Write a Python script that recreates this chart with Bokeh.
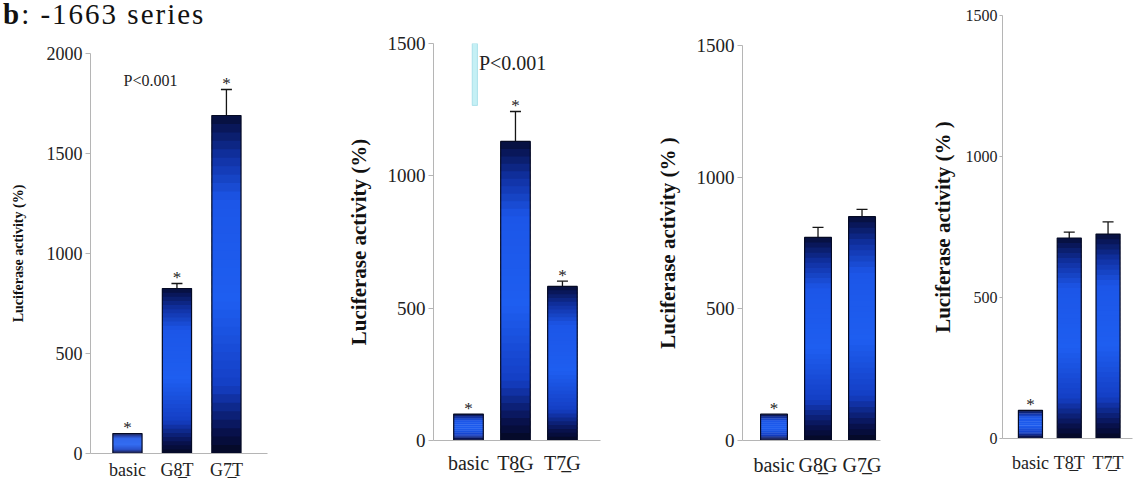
from bokeh.plotting import figure
from bokeh.layouts import row, column
from bokeh.models import (Range1d, FixedTicker, Whisker, ColumnDataSource, Label,
                          BoxAnnotation, TeeHead, Div)
from bokeh.embed import file_html
from bokeh.resources import INLINE
from bokeh.core.properties import value

UL = "\u0332"  # combining low line (underline under the digit)

# ---- data ----
p1_labels = ["basic", "G8" + UL + "T", "G7" + UL + "T"]
p1_values = [100, 825, 1690]
p1_errors = [0, 25, 130]
p1_stars = [1, 1, 1]

p2_labels = ["basic", "T8" + UL + "G", "T7" + UL + "G"]
p2_values = [100, 1130, 582]
p2_errors = [0, 113, 20]
p2_stars = [1, 1, 1]

p3_labels = ["basic", "G8" + UL + "G", "G7" + UL + "G"]
p3_values = [100, 771, 850]
p3_errors = [0, 38, 28]
p3_stars = [1, 0, 0]

p4_labels = ["basic", "T8" + UL + "T", "T7" + UL + "T"]
p4_values = [100, 711, 725]
p4_errors = [0, 21, 43]
p4_stars = [1, 0, 0]

y_ticks_1 = [0, 500, 1000, 1500, 2000]
y_ticks_2 = [0, 500, 1000, 1500]

FONT = "Liberation Serif"

# gradient profile of a bar (fraction of bar height -> colour)
STOPS = [(0.00, (4, 8, 34)), (0.07, (8, 18, 80)), (0.20, (20, 62, 196)),
         (0.45, (30, 94, 240)), (0.75, (28, 86, 232)), (0.88, (16, 48, 160)),
         (0.96, (9, 24, 92)), (1.00, (6, 14, 56))]


def grad(t):
    for (a, ca), (b, cb) in zip(STOPS[:-1], STOPS[1:]):
        if a <= t <= b:
            f = (t - a) / (b - a)
            c = [round(ca[i] + (cb[i] - ca[i]) * f) for i in range(3)]
            return "#%02x%02x%02x" % tuple(c)
    return "#%02x%02x%02x" % STOPS[-1][1]


def make_panel(labels, values, errors, stars, yticks, xr, width, height, borders,
               tick_fs, xlab_fs, ylab_fs, ylabel, ylab_standoff, xlab_standoff,
               tick_out, tick_standoff, bar_w):
    left, right, top, bottom = borders
    p = figure(width=width, height=height, output_backend="svg", toolbar_location=None,
               x_range=Range1d(*xr), y_range=Range1d(0, yticks[-1]),
               min_border_left=left, min_border_right=right,
               min_border_top=top, min_border_bottom=bottom)
    p.frame_align = False
    p.outline_line_color = None
    p.grid.grid_line_color = None
    p.background_fill_color = "white"
    p.border_fill_color = "white"

    xs = [1, 2, 3]
    # gradient slices (slightly overlapping so no seams)
    N = 40
    sx, sb, st, sc = [], [], [], []
    for x, v in zip(xs, values):
        for i in range(N):
            sx.append(x)
            sb.append(v * i / N)
            st.append(min(v, v * (i + 1.6) / N))
            sc.append(grad((i + 0.5) / N))
    p.vbar(x=sx, bottom=sb, top=st, width=bar_w, fill_color=sc, line_color=None)
    p.vbar(x=xs, bottom=0, top=values, width=bar_w, fill_alpha=0,
           line_color="#050a24", line_width=1.2)

    # error bars
    ex = [x for x, e in zip(xs, errors) if e > 0]
    ev = [v for v, e in zip(values, errors) if e > 0]
    ee = [e for e in errors if e > 0]
    src = ColumnDataSource(dict(x=ex, upper=[v + e for v, e in zip(ev, ee)],
                                lower=[v - e for v, e in zip(ev, ee)]))
    w = Whisker(source=src, base="x", upper="upper", lower="lower",
                upper_head=TeeHead(size=11, line_color="#151515", line_width=1.3),
                lower_head=None, line_color="#151515", line_width=1.3)
    p.add_layout(w)

    # significance stars
    tx = [x for x, s in zip(xs, stars) if s]
    ty = [v + e for v, e, s in zip(values, errors, stars) if s]
    p.text(x=tx, y=ty, text=["*"] * len(tx), text_align="center",
           text_baseline="alphabetic", y_offset=-6, text_font=value(FONT),
           text_font_size="17px", text_color="#222222")

    # axes
    ya = p.yaxis[0]
    ya.ticker = FixedTicker(ticks=yticks)
    ya.minor_tick_line_color = None
    ya.major_tick_in = 0
    ya.major_tick_out = tick_out
    ya.major_tick_line_color = "#b5b5b5"
    ya.axis_line_color = "#b5b5b5"
    ya.major_label_text_font = FONT
    ya.major_label_text_font_size = tick_fs
    ya.major_label_text_color = "#222222"
    ya.major_label_standoff = tick_standoff
    ya.axis_label = ylabel
    ya.axis_label_text_font = FONT
    ya.axis_label_text_font_style = "bold"
    ya.axis_label_text_font_size = ylab_fs
    ya.axis_label_text_color = "#111111"
    ya.axis_label_standoff = ylab_standoff

    xa = p.xaxis[0]
    xa.ticker = FixedTicker(ticks=xs)
    xa.major_label_overrides = {x: l for x, l in zip(xs, labels)}
    xa.minor_tick_line_color = None
    xa.major_tick_line_color = None
    xa.major_tick_out = 0
    xa.major_tick_in = 0
    xa.axis_line_color = "#b5b5b5"
    xa.major_label_text_font = FONT
    xa.major_label_text_font_size = xlab_fs
    xa.major_label_text_color = "#222222"
    xa.major_label_standoff = xlab_standoff
    return p


TITLE_H = 28
p1 = make_panel(p1_labels, p1_values, p1_errors, p1_stars, y_ticks_1, (0.253, 3.83), 300,
                485 - TITLE_H, (90, 33, 53 - TITLE_H, 32), "18px", "18px", "14px",
                "Luciferase activity (%)", 18, 6, 5, 3, 0.59)
p2 = make_panel(p2_labels, p2_values, p2_errors, p2_stars, y_ticks_2, (0.255, 3.81), 310,
                485, (133, 10, 43, 45), "19px", "20px", "21px", "Luciferase activity (%)",
                14, 11, 5, 3, 0.63)
p3 = make_panel(p3_labels, p3_values, p3_errors, p3_stars, y_ticks_2, (0.284, 3.42), 280,
                485, (132, 10, 45, 45), "19px", "20px", "21px", "Luciferase activity (% )",
                14, 13, 5, 3, 0.61)
p4 = make_panel(p4_labels, p4_values, p4_errors, p4_stars, y_ticks_2, (0.28, 3.63), 250,
                485, (112, 8, 15, 47), "16px", "18px", "21px", "Luciferase activity (% )",
                8, 14, 3, 2, 0.62)

# panel title
title = Div(text="<b>b</b>: -1663 series", width=300, height=TITLE_H, margin=0,
            styles={"font-family": FONT, "font-size": "29px", "line-height": "28px",
                    "color": "#111111", "letter-spacing": "2px", "padding-left": "3px",
                    "white-space": "nowrap", "overflow": "visible"})

# annotations
p1.add_layout(Label(x=1.465, y=1865, text="P<0.001", text_font=FONT, text_font_size="16px",
                    text_align="center", text_baseline="middle", text_color="#222222"))
p2.add_layout(Label(x=1.94, y=1428, text="P<0.001", text_font=FONT, text_font_size="20px",
                    text_align="center", text_baseline="middle", text_color="#222222"))
# faint cyan scan streak in panel 2
p2.add_layout(BoxAnnotation(left=1.08, right=1.19, bottom=1266, fill_color="#bfeef4",
                            fill_alpha=0.9, line_color="#9fdbe6", line_alpha=0.8))

layout = row(column(title, p1, spacing=0), p2, p3, p4, spacing=0)
open("out.html", "w").write(file_html(layout, INLINE))
